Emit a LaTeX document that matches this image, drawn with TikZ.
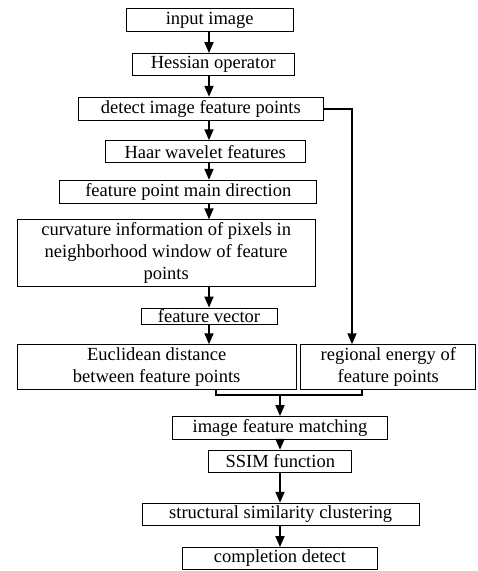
\documentclass[tikz,border=0pt]{standalone}
\usepackage{fontspec}
\setmainfont{Liberation Serif}
\usetikzlibrary{arrows.meta}

\begin{document}
\begin{tikzpicture}[
            x = 1pt, y = -1pt,
            every node/.style={font=\fontsize{18.5}{22}\selectfont, inner sep=0pt, align=center},
            box/.style={draw, line width = .9pt},
            line/.style={line width = 1.8pt},
            arrow/.style={line, -{Triangle[length=11pt, width=9pt]}},
            ]
        \useasboundingbox (0, 0) rectangle (478, 571);

        \node[box, minimum width=167pt, minimum height=23pt] (1) at (209.7, 20) {input image};
        \node[box, minimum width=162pt, minimum height=22pt] (2) at (213.3, 64.5) {Hessian operator};
        \node[box, minimum width=245pt, minimum height=23pt] (3) at (200.8, 108.7) {detect image feature points};
        \node[box, minimum width=200pt, minimum height=22pt] (4) at (205.2, 151.7) {Haar wavelet features};
        \node[box, minimum width=257pt, minimum height=23pt] (5) at (188.3, 191.8) {feature point main direction};
        \node[box, minimum width=298pt, minimum height=67pt] (6) at (166.2, 253.3) {curvature information of pixels in\\neighborhood window of feature\\points};
        \node[box, minimum width=136pt, minimum height=16pt] (7) at (209, 316) {feature vector};
        \node[box, minimum width=279pt, minimum height=45pt] (8) at (156.7, 367.2) {Euclidean distance\\between feature points};
        \node[box, minimum width=175pt, minimum height=45pt] (9) at (388.3, 367.2) {regional energy of\\feature points};
        \node[box, minimum width=215pt, minimum height=23pt] (10) at (280, 428) {image feature matching};
        \node[box, minimum width=143pt, minimum height=22pt] (11) at (280.3, 461.2) {SSIM function};
        \node[box, minimum width=277pt, minimum height=22pt] (12) at (280.7, 514.2) {structural similarity clustering};
        \node[box, minimum width=195pt, minimum height=22pt] (13) at (280, 558.5) {completion detect};

        \coordinate (a) at (209, 0);
        \coordinate (b) at (280, 0);
        \coordinate (r) at (352, 108.7);
        \coordinate (m1) at (215.7, 395);
        \coordinate (m2) at (361.7, 395);
        \coordinate (m) at (280, 395);

        \draw[arrow] (1.south -| a) -- (2.north -| a);
        \draw[arrow] (2.south -| a) -- (3.north -| a);
        \draw[arrow] (3.south -| a) -- (4.north -| a);
        \draw[arrow] (4.south -| a) -- (5.north -| a);
        \draw[arrow] (5.south -| a) -- (6.north -| a);
        \draw[arrow] (6.south -| a) -- (7.north -| a);
        \draw[arrow] (7.south -| a) -- (8.north -| a);
        \draw[arrow] (3.east) -- (r) -- (r |- 9.north);
        \draw[line] (m1 |- 8.south) -- (m1) -- (m2) -- (m2 |- 9.south);
        \draw[arrow] (m) -- (10.north -| b);
        \draw[arrow] (10.south -| b) -- (11.north -| b);
        \draw[arrow] (11.south -| b) -- (12.north -| b);
        \draw[arrow] (12.south -| b) -- (13.north -| b);
    \end{tikzpicture}
\end{document}
